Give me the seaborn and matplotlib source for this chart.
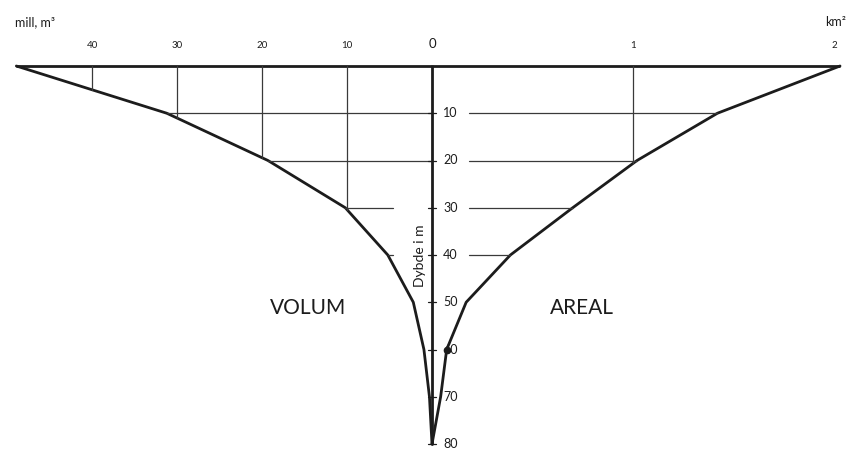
import numpy as np
import pandas as pd
import matplotlib
matplotlib.use("Agg")
import matplotlib.pyplot as plt
import seaborn as sns

# ---- data ----
depth = [0, 10, 20, 30, 40, 50, 60, 70, 80]
volume = [48.9, 31.2, 19.3, 10.2, 5.2, 2.2, 0.95, 0.3, 0.0]      # mill. m3
area = [2.03, 1.42, 1.02, 0.70, 0.39, 0.17, 0.073, 0.043, 0.0]    # km2
vol_ticks = [40, 30, 20, 10]
area_ticks = [1, 2]
depth_ticks = [10, 20, 30, 40, 50, 60, 70, 80]

sns.set_style("white")
plt.rcParams["font.family"] = ["Lato", "DejaVu Sans"]

W, H = 848, 450
fig = plt.figure(figsize=(W / 100, H / 100), dpi=100)
x0 = 432  # px of depth axis
ax_l = fig.add_axes([0, 0, x0 / W, 1])
ax_r = fig.add_axes([x0 / W, 0, (W - x0) / W, 1])

px_vol = 8.5     # px per mill m3
px_area = 201.0  # px per km2
px_m = 4.725     # px per m depth
ytop = -66 / px_m
ybot = (H - 66) / px_m
ax_l.set_xlim(x0 / px_vol, 0)
ax_r.set_xlim(0, (W - x0) / px_area)
for ax in (ax_l, ax_r):
    ax.set_ylim(ybot, ytop)
    ax.axis("off")

dark = "#1c1c1c"
grid = "#3a3a3a"

df = pd.DataFrame({"depth": depth, "volume": volume, "area": area})
sns.lineplot(data=df, x="volume", y="depth", sort=False, estimator=None,
             color=dark, lw=2.0, ax=ax_l, clip_on=False)
sns.lineplot(data=df, x="area", y="depth", sort=False, estimator=None,
             color=dark, lw=2.0, ax=ax_r, clip_on=False)
# small blob on the area curve at 60 m
ax_r.plot([area[6]], [depth[6]], "o", color=dark, ms=4.5, clip_on=False)

# surface line
ax_l.plot([volume[0], 0], [0, 0], color=dark, lw=2.0, clip_on=False, solid_capstyle="butt")
ax_r.plot([0, area[0]], [0, 0], color=dark, lw=2.0, clip_on=False, solid_capstyle="butt")
# depth axis
ax_l.plot([0, 0], [0, depth[-1]], color=dark, lw=2.0, clip_on=False)

# vertical grid lines bounded by curve
vr = np.array(volume[::-1]); dr = np.array(depth[::-1])
for v in vol_ticks:
    d = np.interp(v, vr, dr)
    ax_l.plot([v, v], [0, d], color=grid, lw=0.9, clip_on=False)
ar = np.array(area[::-1])
d1 = np.interp(1, ar, dr)
ax_r.plot([1, 1], [0, d1], color=grid, lw=0.9, clip_on=False)

# horizontal grid lines
for i, d in enumerate(depth):
    if d in (10, 20):
        ax_l.plot([volume[i], 0], [d, d], color=grid, lw=0.9, clip_on=False)
    if d in (30, 40):
        ax_l.plot([volume[i], 39 / px_vol], [d, d], color=grid, lw=0.9, clip_on=False)
    if d in (10, 20, 30, 40):
        ax_r.plot([37 / px_area, area[i]], [d, d], color=grid, lw=0.9, clip_on=False)

# depth ticks and labels
for d in depth_ticks:
    ax_l.plot([4 / px_vol, -4 / px_vol], [d, d], color=dark, lw=0.9, clip_on=False)
    ax_r.text(11 / px_area, d, str(d), ha="left", va="center", fontsize=9, color=dark)

# top scale labels
ylab = (46 - 66) / px_m
for v in vol_ticks:
    ax_l.text(v, ylab, str(v), ha="center", va="center", fontsize=7, color=dark)
ax_l.text(0, (44 - 66) / px_m, "0", ha="center", va="center", fontsize=9.5, color=dark)
for a in area_ticks:
    ax_r.text(a, ylab, str(a), ha="center", va="center", fontsize=7, color=dark)

fig.text(15 / W, 1 - 22 / H, "mill, m³", ha="left", va="center", fontsize=9, color=dark)
fig.text(846 / W, 1 - 22 / H, "km²", ha="right", va="center", fontsize=9, color=dark)

ax_l.text(12 / px_vol, 40.2, "Dybde i m", rotation=90, ha="center", va="center",
          fontsize=10, color=dark)
ax_l.text((x0 - 308) / px_vol, (308 - 66) / px_m, "VOLUM", ha="center", va="center",
          fontsize=15, color=dark)
ax_r.text((582 - x0) / px_area, (308 - 66) / px_m, "AREAL", ha="center", va="center",
          fontsize=15, color=dark)

fig.savefig("out.png", dpi=100, facecolor="white")
